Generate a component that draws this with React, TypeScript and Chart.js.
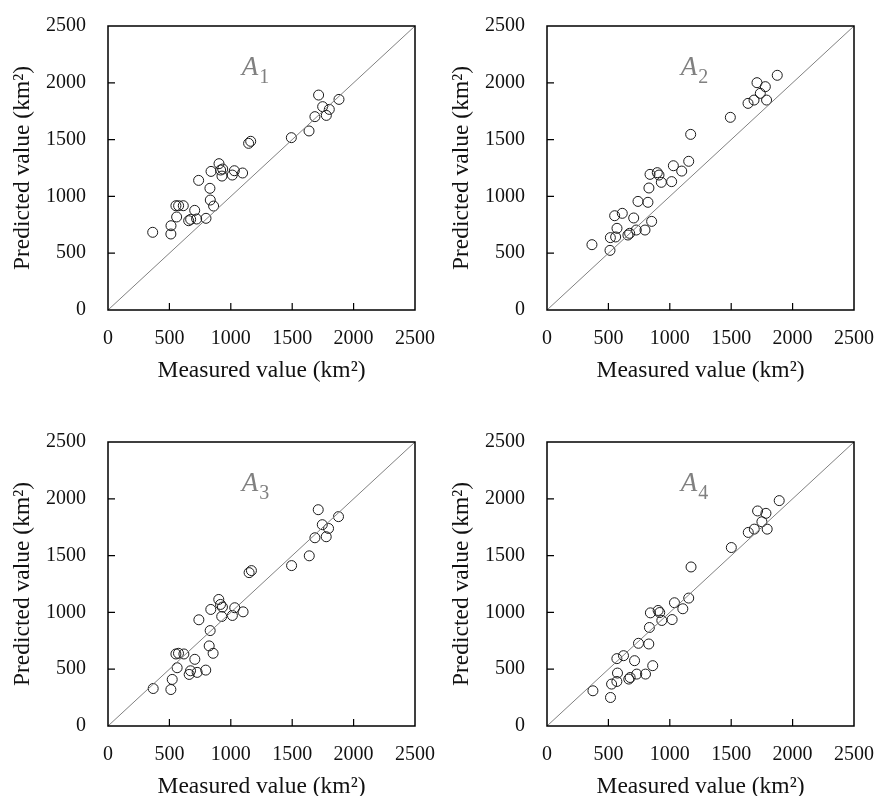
import React, { useEffect, useRef } from "react";
import { Chart, registerables } from "chart.js";

Chart.register(...registerables);

// ---- data ----
const AXIS_TICKS = [0, 500, 1000, 1500, 2000, 2500];
const AXIS_TICK_LABELS = ["0", "500", "1000", "1500", "2000", "2500"];
const AXIS_MIN = 0;
const AXIS_MAX = 2500;
const LINE_1TO1 = [0, 2500];
const X_TITLE = "Measured value (km²)";
const Y_TITLE = "Predicted value (km²)";
const PANEL_SUBS = ["1", "2", "3", "4"];

const A1_MEASURED = [364, 513, 512, 559, 553, 575, 613, 657, 673, 722, 706, 798, 738, 830, 833, 860, 839, 904, 917, 928, 934, 1012, 1029, 1096, 1145, 1162, 1493, 1637, 1685, 1715, 1748, 1778, 1802, 1881];
const A1_PREDICTED = [684, 742, 669, 819, 918, 918, 918, 786, 798, 801, 877, 807, 1141, 1071, 968, 915, 1220, 1288, 1232, 1179, 1241, 1188, 1226, 1206, 1467, 1485, 1517, 1576, 1702, 1892, 1790, 1713, 1766, 1854];

const A2_MEASURED = [366, 513, 516, 559, 570, 551, 613, 659, 673, 706, 727, 798, 741, 822, 852, 830, 839, 898, 912, 931, 1015, 1029, 1097, 1154, 1170, 1493, 1637, 1686, 1710, 1737, 1778, 1788, 1875];
const A2_PREDICTED = [575, 525, 637, 643, 719, 830, 851, 660, 675, 810, 704, 704, 956, 948, 780, 1074, 1194, 1209, 1188, 1124, 1130, 1270, 1223, 1309, 1546, 1696, 1819, 1848, 2001, 1907, 1966, 1848, 2066];

const A3_MEASURED = [368, 512, 523, 563, 553, 574, 618, 661, 672, 726, 707, 796, 740, 832, 824, 856, 837, 902, 916, 932, 926, 1013, 1032, 1100, 1149, 1168, 1495, 1639, 1685, 1712, 1745, 1777, 1796, 1877];
const A3_PREDICTED = [330, 321, 410, 513, 634, 640, 634, 454, 486, 472, 587, 492, 935, 840, 705, 640, 1026, 1114, 1070, 1047, 964, 973, 1041, 1005, 1350, 1368, 1412, 1498, 1657, 1904, 1772, 1666, 1739, 1843];

const A4_MEASURED = [374, 517, 526, 569, 574, 569, 623, 666, 677, 731, 713, 802, 745, 829, 834, 861, 842, 905, 918, 935, 1019, 1038, 1106, 1154, 1173, 1501, 1639, 1688, 1715, 1750, 1783, 1793, 1891];
const A4_PREDICTED = [310, 251, 369, 392, 466, 593, 619, 413, 427, 457, 575, 457, 728, 722, 867, 531, 996, 1017, 999, 929, 937, 1085, 1032, 1126, 1400, 1571, 1704, 1733, 1893, 1798, 1872, 1733, 1984];

const PANELS = [
  { sub: PANEL_SUBS[0], xs: A1_MEASURED, ys: A1_PREDICTED },
  { sub: PANEL_SUBS[1], xs: A2_MEASURED, ys: A2_PREDICTED },
  { sub: PANEL_SUBS[2], xs: A3_MEASURED, ys: A3_PREDICTED },
  { sub: PANEL_SUBS[3], xs: A4_MEASURED, ys: A4_PREDICTED },
];

// ---- styling / layout ----
const FONT = '"Liberation Serif", "Times New Roman", serif';
const TEXT_COLOR = "#111";
const CANVAS_W = 440;
const CANVAS_H = 416;
const POSITIONS = [
  { left: 0, top: 0 },
  { left: 439, top: 0 },
  { left: 0, top: 416 },
  { left: 439, top: 416 },
];
const LABEL_POS = { x: 1090, y: 2069 };

const tickLabel = (v: any) => {
  const i = AXIS_TICKS.indexOf(Number(v));
  return i >= 0 ? AXIS_TICK_LABELS[i] : "";
};

const zeroPadding = (s: any) => {
  s.paddingLeft = 0;
  s.paddingRight = 0;
  s.paddingTop = 0;
  s.paddingBottom = 0;
};

const framePlugin = {
  id: "frameAndLabel",
  afterDatasetsDraw(chart: any, _args: any, opts: any) {
    const { ctx, chartArea, scales } = chart;
    const { left, right, top, bottom } = chartArea;
    ctx.save();
    ctx.strokeStyle = "#000";
    ctx.lineWidth = 1.5;
    ctx.strokeRect(left, top, right - left, bottom - top);
    ctx.lineWidth = 1.2;
    ctx.beginPath();
    for (const v of AXIS_TICKS) {
      if (v === AXIS_MIN || v === AXIS_MAX) continue;
      const px = scales.x.getPixelForValue(v);
      ctx.moveTo(px, bottom);
      ctx.lineTo(px, bottom - 7);
      const py = scales.y.getPixelForValue(v);
      ctx.moveTo(left, py);
      ctx.lineTo(left + 7, py);
    }
    ctx.stroke();

    // panel label A with subscript
    const lx = scales.x.getPixelForValue(LABEL_POS.x);
    const ly = scales.y.getPixelForValue(LABEL_POS.y);
    ctx.fillStyle = "#808080";
    ctx.textBaseline = "alphabetic";
    ctx.textAlign = "left";
    ctx.font = `italic 27px ${FONT}`;
    ctx.fillText("A", lx, ly);
    const w = ctx.measureText("A").width;
    ctx.font = `20px ${FONT}`;
    ctx.fillText(opts.sub, lx + w + 1, ly + 8);
    ctx.restore();
  },
};

function Panel({ index }: { index: number }) {
  const ref = useRef<HTMLCanvasElement | null>(null);
  useEffect(() => {
    const p = PANELS[index];
    const points = p.xs.map((x, i) => ({ x, y: p.ys[i] }));
    const chart = new Chart(ref.current as HTMLCanvasElement, {
      type: "scatter",
      data: {
        datasets: [
          {
            data: [
              { x: LINE_1TO1[0], y: LINE_1TO1[0] },
              { x: LINE_1TO1[1], y: LINE_1TO1[1] },
            ],
            showLine: true,
            borderColor: "#808080",
            borderWidth: 1,
            pointRadius: 0,
            fill: false,
          } as any,
          {
            data: points,
            pointRadius: 5,
            pointBorderWidth: 1,
            borderColor: "#1a1a1a",
            backgroundColor: "rgba(0,0,0,0)",
            pointBackgroundColor: "rgba(0,0,0,0)",
          } as any,
        ],
      },
      options: {
        responsive: false,
        animation: false,
        devicePixelRatio: 1,
        layout: { padding: { left: 0, right: 25, top: 26, bottom: 0 } },
        plugins: {
          legend: { display: false },
          tooltip: { enabled: false },
          frameAndLabel: { sub: p.sub },
        } as any,
        scales: {
          x: {
            type: "linear",
            min: AXIS_MIN,
            max: AXIS_MAX,
            grid: { display: false, drawTicks: false },
            border: { display: false },
            afterBuildTicks: (s: any) => {
              s.ticks = AXIS_TICKS.map((v) => ({ value: v }));
            },
            ticks: {
              font: { family: FONT, size: 20 },
              color: TEXT_COLOR,
              padding: 17,
              maxRotation: 0,
              autoSkip: false,
              callback: tickLabel,
            },
            title: {
              display: true,
              text: X_TITLE,
              font: { family: FONT, size: 23.5 },
              color: TEXT_COLOR,
              padding: { top: 0, bottom: 31 },
            },
            afterFit: (s: any) => {
              s.height = 106;
              zeroPadding(s);
            },
          },
          y: {
            type: "linear",
            min: AXIS_MIN,
            max: AXIS_MAX,
            grid: { display: false, drawTicks: false },
            border: { display: false },
            afterBuildTicks: (s: any) => {
              s.ticks = AXIS_TICKS.map((v) => ({ value: v }));
            },
            ticks: {
              font: { family: FONT, size: 20 },
              color: TEXT_COLOR,
              padding: 22,
              autoSkip: false,
              callback: tickLabel,
            },
            title: {
              display: true,
              text: Y_TITLE,
              font: { family: FONT, size: 23.5 },
              color: TEXT_COLOR,
              padding: { top: 9, bottom: 0 },
            },
            afterFit: (s: any) => {
              s.width = 108;
              zeroPadding(s);
            },
          },
        },
      } as any,
      plugins: [framePlugin],
    });
    return () => chart.destroy();
  }, [index]);
  const pos = POSITIONS[index];
  return (
    <canvas
      ref={ref}
      width={CANVAS_W}
      height={CANVAS_H}
      style={{ position: "absolute", left: pos.left, top: pos.top, width: CANVAS_W, height: CANVAS_H }}
    />
  );
}

export default function App() {
  return (
    <div
      style={{
        position: "absolute",
        left: 0,
        top: 0,
        width: 880,
        height: 796,
        overflow: "hidden",
        background: "#fff",
      }}
    >
      {PANELS.map((_, i) => (
        <Panel key={i} index={i} />
      ))}
    </div>
  );
}
